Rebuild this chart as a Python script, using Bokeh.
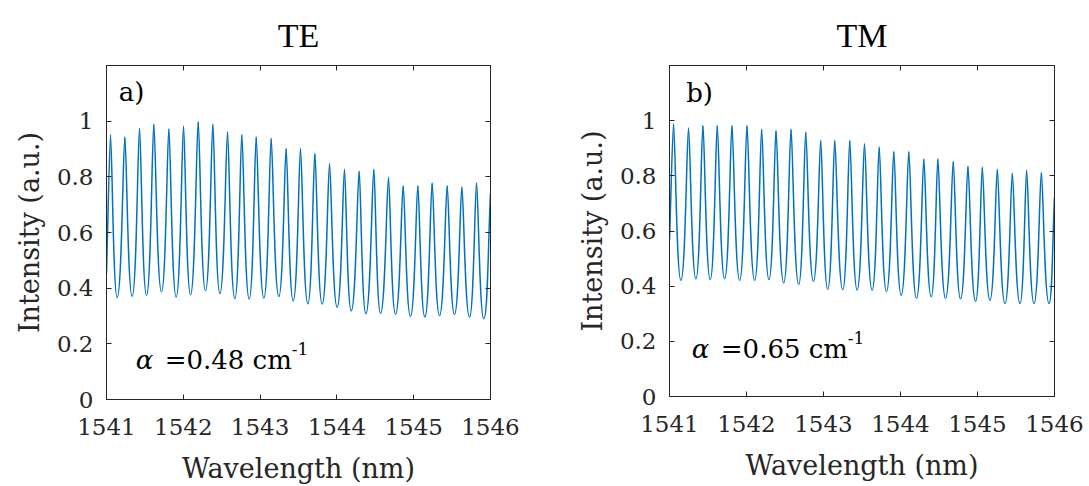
from bokeh.plotting import figure
from bokeh.layouts import row
from bokeh.models import (ColumnDataSource, FixedTicker, LinearAxis, Label,
                          CustomJSTickFormatter)
from bokeh.embed import file_html
from bokeh.resources import INLINE

# ---------------- data ----------------
x_ticks = [1541, 1542, 1543, 1544, 1545, 1546]
y_ticks = [0, 0.2, 0.4, 0.6, 0.8, 1.0]

# TE spectrum: edge values, peak and trough positions / intensities
te_start = (1541.0, 0.454)
te_end = (1546.0, 0.741)
te_peak_wl = [1541.052, 1541.239, 1541.430, 1541.616, 1541.812, 1542.003, 1542.194,
              1542.385, 1542.576, 1542.762, 1542.949, 1543.144, 1543.339, 1543.526,
              1543.713, 1543.904, 1544.099, 1544.290, 1544.481, 1544.672, 1544.863,
              1545.054, 1545.240, 1545.436, 1545.627, 1545.818]
te_peak_int = [0.951, 0.944, 0.975, 0.990, 0.973, 0.983, 0.999, 0.990, 0.962, 0.952,
               0.944, 0.939, 0.903, 0.903, 0.885, 0.848, 0.828, 0.821, 0.828, 0.799,
               0.769, 0.769, 0.779, 0.769, 0.764, 0.779]
te_trough_wl = [1541.139, 1541.334, 1541.521, 1541.716, 1541.907, 1542.094, 1542.289,
                1542.476, 1542.671, 1542.858, 1543.049, 1543.244, 1543.431, 1543.622,
                1543.808, 1544.003, 1544.186, 1544.377, 1544.568, 1544.763, 1544.958,
                1545.145, 1545.336, 1545.531, 1545.727, 1545.913]
te_trough_int = [0.366, 0.371, 0.374, 0.387, 0.368, 0.376, 0.391, 0.381, 0.362, 0.361,
                 0.364, 0.370, 0.354, 0.344, 0.343, 0.331, 0.318, 0.308, 0.309, 0.306,
                 0.298, 0.296, 0.301, 0.306, 0.296, 0.290]

# TM spectrum
tm_start = (1541.0, 0.567)
tm_end = (1546.0, 0.724)
tm_peak_wl = [1541.052, 1541.247, 1541.434, 1541.620, 1541.811, 1542.006, 1542.197,
              1542.383, 1542.578, 1542.769, 1542.964, 1543.146, 1543.341, 1543.532,
              1543.723, 1543.913, 1544.108, 1544.303, 1544.485, 1544.685, 1544.876,
              1545.062, 1545.257, 1545.452, 1545.638, 1545.829]
tm_peak_int = [0.990, 0.974, 0.983, 0.983, 0.983, 0.983, 0.970, 0.965, 0.970, 0.959,
               0.929, 0.929, 0.929, 0.917, 0.905, 0.889, 0.889, 0.862, 0.862, 0.853,
               0.836, 0.832, 0.824, 0.810, 0.821, 0.813]
tm_trough_wl = [1541.148, 1541.343, 1541.529, 1541.716, 1541.911, 1542.106, 1542.292,
                1542.483, 1542.678, 1542.869, 1543.055, 1543.250, 1543.437, 1543.632,
                1543.818, 1544.009, 1544.208, 1544.399, 1544.585, 1544.780, 1544.975,
                1545.162, 1545.357, 1545.552, 1545.734, 1545.929]
tm_trough_int = [0.421, 0.427, 0.424, 0.427, 0.421, 0.421, 0.424, 0.412, 0.406, 0.417,
                 0.388, 0.387, 0.386, 0.385, 0.380, 0.367, 0.356, 0.361, 0.356, 0.354,
                 0.345, 0.349, 0.337, 0.337, 0.337, 0.337]

# ---------------- styling ----------------
LINE = "#0072BD"
AX = "#262626"
FONT = "DejaVu Serif"
TITLE_FONT = "Liberation Serif"
HANDLE = {"p": 0.22, "t": 0.6}


def curve_source(start, pw, pi, tw, ti, end):
    pts = [(start[0], start[1], "e")]
    for a, b, c, d in zip(pw, pi, tw, ti):
        pts.append((a, b, "p"))
        pts.append((c, d, "t"))
    pts.append((end[0], end[1], "e"))
    cols = {k: [] for k in ("x0", "y0", "x1", "y1", "cx0", "cy0", "cx1", "cy1")}
    for (xa, ya, ka), (xb, yb, kb) in zip(pts[:-1], pts[1:]):
        dx = xb - xa
        c0 = (xa + dx / 3, ya + (yb - ya) / 3) if ka == "e" else (xa + HANDLE[ka] * dx, ya)
        c1 = (xb - dx / 3, yb - (yb - ya) / 3) if kb == "e" else (xb - HANDLE[kb] * dx, yb)
        cols["x0"].append(xa); cols["y0"].append(ya)
        cols["x1"].append(xb); cols["y1"].append(yb)
        cols["cx0"].append(c0[0]); cols["cy0"].append(c0[1])
        cols["cx1"].append(c1[0]); cols["cy1"].append(c1[1])
    return ColumnDataSource(cols)


def make_panel(title, tag, tag_xy, alpha_txt, alpha_xy, src, mb, frame_w, frame_h):
    p = figure(x_range=(1541, 1546), y_range=(0, 1.2),
               frame_width=frame_w, frame_height=frame_h,
               min_border_left=mb[0], min_border_right=mb[1],
               min_border_top=mb[2], min_border_bottom=mb[3],
               output_backend="svg", toolbar_location=None)
    p.title.text = title
    p.title.align = "center"
    p.title.text_font = TITLE_FONT
    p.title.text_font_style = "normal"
    p.title.text_font_size = "34px"
    p.title.text_color = "black"
    p.title.standoff = 24

    p.xgrid.grid_line_color = None
    p.ygrid.grid_line_color = None
    p.outline_line_color = AX

    for ax in (p.xaxis[0], p.yaxis[0]):
        ax.axis_line_color = AX
        ax.major_tick_line_color = AX
        ax.major_tick_in = 5
        ax.major_tick_out = 0
        ax.minor_tick_line_color = None
        ax.major_label_text_font = FONT
        ax.major_label_text_font_style = "normal"
        ax.major_label_text_font_size = "23px"
        ax.major_label_text_color = AX
        ax.axis_label_text_font = FONT
        ax.axis_label_text_font_size = "27px"
        ax.axis_label_text_font_style = "normal"
        ax.axis_label_text_color = AX
    p.xaxis[0].major_label_standoff = 19
    p.yaxis[0].major_label_standoff = 13
    p.xaxis[0].ticker = FixedTicker(ticks=x_ticks)
    p.yaxis[0].ticker = FixedTicker(ticks=y_ticks)
    p.yaxis[0].formatter = CustomJSTickFormatter(code="return Number(tick.toFixed(1)).toString();")
    p.xaxis[0].axis_label = "Wavelength (nm)"
    p.xaxis[0].axis_label_standoff = 15
    p.yaxis[0].axis_label = "Intensity (a.u.)"
    p.yaxis[0].axis_label_standoff = 9

    blank = CustomJSTickFormatter(code="return '';")
    for loc, ticks in (("above", x_ticks), ("right", y_ticks)):
        ax = LinearAxis(ticker=FixedTicker(ticks=ticks), formatter=blank,
                        axis_line_color=AX, major_tick_line_color=AX,
                        major_tick_in=5, major_tick_out=0,
                        minor_tick_line_color=None,
                        major_label_text_font_size="1px", major_label_standoff=0)
        p.add_layout(ax, loc)

    p.bezier(x0="x0", y0="y0", x1="x1", y1="y1", cx0="cx0", cy0="cy0",
             cx1="cx1", cy1="cy1", source=src, line_color=LINE, line_width=1.5)

    p.add_layout(Label(x=tag_xy[0], y=tag_xy[1], y_offset=8, text=tag, text_font=FONT,
                       text_font_size="26px", text_color="black",
                       text_baseline="alphabetic"))
    p.add_layout(Label(x=alpha_xy[0], y=alpha_xy[1], y_offset=9, text="α", text_font=FONT,
                       text_font_style="italic", text_font_size="26px",
                       text_color="black", text_baseline="alphabetic"))
    p.add_layout(Label(x=alpha_xy[0], y=alpha_xy[1], x_offset=29, y_offset=9,
                       text=alpha_txt, text_font=FONT, text_font_size="26px",
                       text_color="black", text_baseline="alphabetic"))
    p.add_layout(Label(x=alpha_xy[0], y=alpha_xy[1], x_offset=156, y_offset=20,
                       text="-1", text_font=FONT, text_font_size="17px",
                       text_color="black", text_baseline="alphabetic"))
    return p


src_te = curve_source(te_start, te_peak_wl, te_peak_int, te_trough_wl, te_trough_int, te_end)
src_tm = curve_source(tm_start, tm_peak_wl, tm_peak_int, tm_trough_wl, tm_trough_int, tm_end)

p1 = make_panel("TE", "a)", (1541.16, 1.077), "=0.48 cm", (1541.38, 0.111),
                src_te, (106, 40, 65, 87), 384, 334)
p2 = make_panel("TM", "b)", (1541.217, 1.07), "=0.65 cm", (1541.29, 0.14),
                src_tm, (139, 35, 64, 91), 385, 331)

layout = row(p1, p2)
open("out.html", "w").write(file_html(layout, INLINE))
